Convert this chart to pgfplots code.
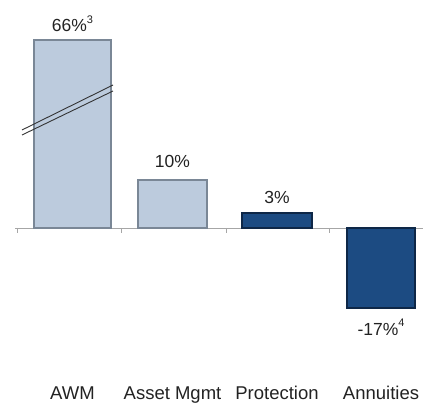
\documentclass[border=0pt]{standalone}
\usepackage{pgfplots}
\pgfplotsset{compat=1.18}
\usepackage{fontspec}
\setmainfont{Liberation Sans}
\definecolor{lightbar}{HTML}{BCCBDD}
\definecolor{lightedge}{HTML}{7A8796}
\definecolor{darkbar}{HTML}{1C4B82}
\definecolor{darkedge}{HTML}{0E2747}
\definecolor{txt}{HTML}{222222}
\newcommand{\supn}[1]{\raisebox{0.5em}{\fontsize{11}{12}\selectfont #1}}
\begin{document}
\begin{tikzpicture}
\begin{axis}[
  scale only axis, width=423pt, height=405pt,
  xmin=0, xmax=423, ymin=-36.875, ymax=47.5,
  axis line style={draw=none}, tick style={draw=none},
  ytick=\empty,
  xtick={72.5,172.5,277,381},
  xticklabels={AWM, Asset Mgmt, Protection, Annuities},
  xticklabel style={anchor=base, yshift=9.5pt, inner sep=0pt, font=\fontsize{18.5}{20}\selectfont, text=txt},
  ybar, bar shift=0pt,
  clip=false,
  every node near coord/.append style={font=\fontsize{17.5}{19}\selectfont, text=txt, anchor=base, inner sep=0pt},
]
\draw[gray!70, line width=0.8pt] (axis cs:15,0) -- (axis cs:423,0);
\pgfplotsinvokeforeach{17,121,226,329}{\draw[gray!70, line width=0.6pt] (axis cs:#1,0) -- ([yshift=-5pt]axis cs:#1,0);}
\addplot[bar width=77pt, fill=lightbar, draw=lightedge, line width=1.5pt,
  nodes near coords={66\%\supn{3}},
  every node near coord/.append style={yshift=8pt}]
  coordinates {(72.5,39.2)};
\addplot[bar width=69pt, fill=lightbar, draw=lightedge, line width=1.5pt,
  nodes near coords={10\%},
  every node near coord/.append style={yshift=12pt}]
  coordinates {(172.5,10)};
\addplot[bar width=70pt, fill=darkbar, draw=darkedge, line width=1.5pt,
  nodes near coords={3\%},
  every node near coord/.append style={yshift=10pt}]
  coordinates {(277,3.1)};
\addplot[bar width=68pt, fill=darkbar, draw=darkedge, line width=1.5pt,
  nodes near coords={-17\%\supn{4}},
  every node near coord/.append style={yshift=-27pt}]
  coordinates {(381,-16.7)};
\draw[black!80, line width=0.9pt] (axis cs:22,20.42) -- (axis cs:113,29.79);
\draw[black!80, line width=0.9pt] (axis cs:22,19.375) -- (axis cs:113,28.54);
\end{axis}
\pgfresetboundingbox
\useasboundingbox (current axis.south west) rectangle (current axis.north east);
\end{tikzpicture}
\end{document}
